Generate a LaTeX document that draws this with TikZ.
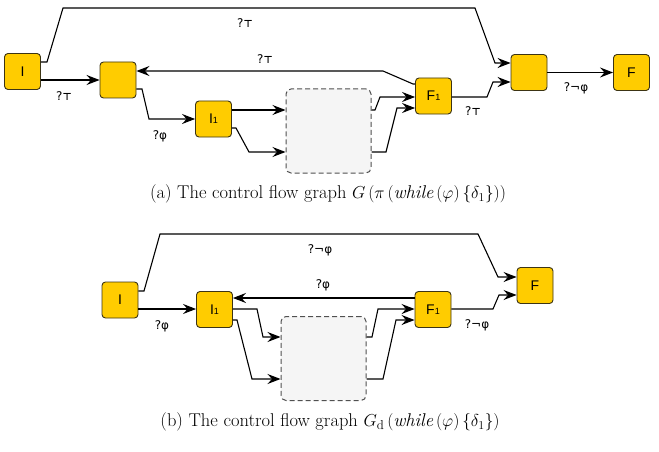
\documentclass[tikz,border=0pt]{standalone}
\usepackage{fontspec}
\newfontfamily\nodefont{Liberation Sans}
\newfontfamily\labfont{DejaVu Sans}
\usetikzlibrary{arrows.meta,calc}
\definecolor{gold}{RGB}{255,204,0}
\definecolor{goldline}{RGB}{60,52,20}
\definecolor{boxfill}{RGB}{245,245,245}
\definecolor{boxline}{RGB}{80,80,80}
\newcommand{\topsym}{{\bfseries\fontsize{10}{10}\selectfont ⊤}}
\begin{document}
\begin{tikzpicture}[x=1pt,y=-1pt,
  blk/.style={draw=goldline,fill=gold,rounded corners=3.5pt,line width=0.9pt,minimum width=36pt,minimum height=36pt,inner sep=0pt,font=\nodefont\fontsize{14}{14}\selectfont},
  subbox/.style={draw=boxline,fill=boxfill,dashed,dash pattern=on 5pt off 3pt,rounded corners=5pt,line width=1pt,minimum width=85pt,minimum height=84pt,inner sep=0pt},
  conn/.style={line width=1.1pt,-{Stealth[length=13pt,width=10pt,inset=4.5pt]}},
  lab/.style={font=\labfont\fontsize{12}{12}\selectfont,inner sep=0pt},
  captxt/.style={font=\fontsize{18.5}{20}\selectfont,inner sep=0pt}]
\useasboundingbox (0,0) rectangle (659,452);
% ---------- (a)
\node[blk] (aI) at (22.5,71.5) {I};
\node[blk] (aM1) at (118,80) {};
\node[blk] (aI1) at (213.5,119) {I{\fontsize{9}{9}\selectfont 1}};
\node[subbox] (aBox) at (328.5,131) {};
\node[blk] (aF1) at (433.5,96) {F{\fontsize{9}{9}\selectfont 1}};
\node[blk] (aM2) at (529,72.5) {};
\node[blk] (aF) at (631.5,72.5) {F};

\draw[conn] (aI.east |- 0,62) -- (47,62) -- (63,8) -- (475,8) -- (495,63) -- (aM2.west |- 0,63);
\node[lab] (la1) at (245,23) {?\topsym};
\draw[conn] (aI.east |- 0,80) -- (aM1.west |- 0,80);
\node[lab] (la2) at (64,96) {?\topsym};
\draw[conn] (aM1.east |- 0,89) -- (142,89) -- (149,119) -- (aI1.west);
\node[lab] (la3) at (160,136) {?φ};
\draw[conn] (aI1.east |- 0,110) -- (aBox.west |- 0,110);
\draw[conn] (aI1.east |- 0,128) -- (236,128) -- (249,152) -- (aBox.west |- 0,152);
\draw[conn] (aBox.east |- 0,110) -- (375,110) -- (380,97) -- (aF1.west |- 0,97);
\draw[conn] (aBox.east |- 0,152) -- (386,152) -- (397,108) -- (aF1.west |- 0,108);
\draw[conn] (aF1.west |- 0,84) -- (413,84) -- (383,71) -- (aM1.east |- 0,71);
\node[lab] (la4) at (265,59) {?\topsym};
\draw[conn] (aF1.east |- 0,97) -- (487,97) -- (493,82) -- (aM2.west |- 0,82);
\node[lab] (la5) at (473,111) {?\topsym};
\draw[conn] (aM2.east) -- (aF.west);
\node[lab] (la6) at (576,88) {?¬φ};
\node[captxt] (capa) at (328,194) {(a) The control flow graph $G\left(\pi\left(\mathit{while}\left(\varphi\right)\left\{\delta_1\right\}\right)\right)$};
% ---------- (b)
\node[blk] (bI) at (120,300) {I};
\node[blk] (bI1) at (214.5,309.5) {I{\fontsize{9}{9}\selectfont 1}};
\node[subbox] (bBox) at (323.5,358.5) {};
\node[blk] (bF1) at (433,309.5) {F{\fontsize{9}{9}\selectfont 1}};
\node[blk] (bF) at (535,285.5) {F};

\draw[conn] (bI.east |- 0,291) -- (144,291) -- (160,234) -- (478,234) -- (498,277) -- (bF.west |- 0,277);
\node[lab] (lb1) at (320,250) {?¬φ};
\draw[conn] (bI.east |- 0,309) -- (bI1.west |- 0,309);
\node[lab] (lb2) at (162,326) {?φ};
\draw[conn] (bF1.west |- 0,298) -- (bI1.east |- 0,298);
\node[lab] (lb3) at (323,285) {?φ};
\draw[conn] (bI1.east |- 0,309) -- (257,309) -- (263,337) -- (bBox.west |- 0,337);
\draw[conn] (bI1.east |- 0,320) -- (237,320) -- (252,379) -- (bBox.west |- 0,379);
\draw[conn] (bBox.east |- 0,337) -- (372,337) -- (378,309) -- (bF1.west |- 0,309);
\draw[conn] (bBox.east |- 0,379) -- (383,379) -- (396,320) -- (bF1.west |- 0,320);
\draw[conn] (bF1.east |- 0,309) -- (493,309) -- (499,295) -- (bF.west |- 0,295);
\node[lab] (lb4) at (477,325) {?¬φ};
\node[captxt] (capb) at (330,422) {(b) The control flow graph $G_{\mathrm{d}}\left(\mathit{while}\left(\varphi\right)\left\{\delta_1\right\}\right)$};
\end{tikzpicture}
\end{document}
